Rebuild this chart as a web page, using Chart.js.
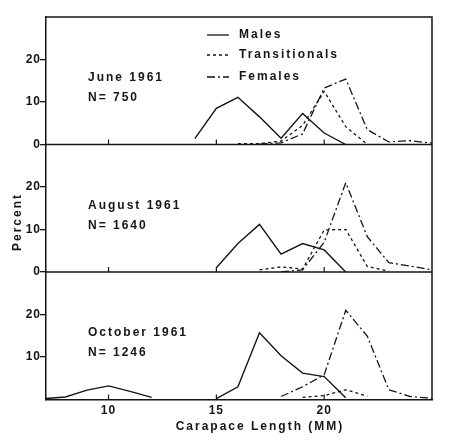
<!DOCTYPE html>
<html>
<head>
<meta charset="utf-8">
<script src="https://cdn.jsdelivr.net/npm/chart.js@4.4.1/dist/chart.umd.min.js"></script>
<style>
  html, body { margin: 0; background: #fff; }
  #wrap { width: 450px; height: 444px; }
</style>
</head>
<body>
<div id="wrap"><canvas id="chart"></canvas></div>
<script>
// carapace length classes (mm)
const lengths = [7, 8, 9, 10, 11, 12, 13, 14, 15, 16, 17, 18, 19, 20, 21, 22, 23, 24, 25];

// percent per length class, null = no line
const juneMales     = [null, null, null, null, null, null, null, 1.4, 8.5, 11.1, 6.5, 1.5, 7.3, 2.7, 0, null, null, null, null];
const juneTrans     = [null, null, null, null, null, null, null, null, null, 0.2, 0.2, 0.8, 4.5, 12.5, 4.2, 0, null, null, null];
const juneFemales   = [null, null, null, null, null, null, null, null, null, null, 0.1, 0.4, 2.5, 13.3, 15.4, 3.5, 0.6, 0.9, 0.3];

const augustMales   = [null, null, null, null, null, null, null, null, 1.0, 6.7, 11.2, 4.2, 6.7, 5.2, 0, null, null, null, null];
const augustTrans   = [null, null, null, null, null, null, null, null, null, null, 0.5, 1.2, 0.7, 9.9, 10.0, 1.3, 0.2, null, null];
const augustFemales = [null, null, null, null, null, null, null, null, null, null, null, 0, 0.5, 7.0, 21.0, 8.3, 2.2, 1.4, 0.5];

const octMales      = [0.2, 0.6, 2.2, 3.2, 1.9, 0.5, null, null, 0.2, 3.0, 15.7, 10.3, 6.2, 5.4, 0.4, null, null, null, null];
const octTrans      = [null, null, null, null, null, null, null, null, null, null, null, null, 0.5, 0.9, 2.3, 0.8, null, null, null];
const octFemales    = [null, null, null, null, null, null, null, null, null, null, null, 0.7, 3.0, 5.8, 21.0, 14.9, 2.3, 0.7, 0.3];

const xTicks = [10, 15, 20];
const yTicks = [0, 10, 20];

const panelTitles = ['June 1961', 'August 1961', 'October 1961'];
const panelCounts = ['N= 750', 'N= 1640', 'N= 1246'];
const seriesNames = ['Males', 'Transitionals', 'Females'];
const xTitle = 'Carapace Length (MM)';
const yTitle = 'Percent';

const INK = '#151515';
const FONT = '"Liberation Sans", Arial, sans-serif';
const dashes = [[], [3, 3], [8, 3, 2, 3]];

function pts(arr) {
  return lengths.map((x, i) => ({ x: x, y: arr[i] }));
}

function line(arr, kind, axis) {
  return {
    label: seriesNames[kind],
    data: pts(arr),
    yAxisID: axis,
    borderColor: INK,
    borderWidth: kind === 0 ? 1.4 : 1.3,
    borderDash: dashes[kind],
    pointRadius: 0,
    tension: 0,
    spanGaps: false
  };
}

const datasets = [
  line(juneMales, 0, 'y1'), line(juneTrans, 1, 'y1'), line(juneFemales, 2, 'y1'),
  line(augustMales, 0, 'y2'), line(augustTrans, 1, 'y2'), line(augustFemales, 2, 'y2'),
  line(octMales, 0, 'y3'), line(octTrans, 1, 'y3'), line(octFemales, 2, 'y3')
];

function panelAxis(showZero) {
  return {
    type: 'linear',
    position: 'left',
    stack: 'panels',
    stackWeight: 1,
    min: 0,
    max: 30,
    afterBuildTicks: s => {
      s.ticks = yTicks.filter(v => showZero || v > 0).map(v => ({ value: v }));
    },
    afterFit: s => { s.width = 46; },
    grid: { drawOnChartArea: false, tickLength: 6, color: INK, lineWidth: 1.3 },
    border: { display: true, color: INK, width: 1.5 },
    ticks: { color: INK, padding: -1, font: { family: FONT, size: 12, weight: 'bold' } }
  };
}

const spacing = {
  id: 'spacing',
  beforeLayout(chart) { chart.ctx.letterSpacing = '1px'; },
  beforeDraw(chart) { chart.ctx.letterSpacing = '1px'; }
};

const frame = {
  id: 'frame',
  afterDraw(chart) {
    const { ctx, chartArea: a, scales } = chart;
    ctx.save();
    ctx.strokeStyle = INK;
    ctx.lineWidth = 1.5;
    ctx.beginPath();
    ctx.moveTo(a.left, a.top);
    ctx.lineTo(a.right, a.top);
    ctx.lineTo(a.right, a.bottom);
    ['y1', 'y2'].forEach(id => {
      const y = scales[id].getPixelForValue(0);
      ctx.moveTo(a.left, y);
      ctx.lineTo(a.right, y);
    });
    ctx.stroke();

    // small inward ticks on every panel baseline
    ctx.lineWidth = 1.2;
    ctx.beginPath();
    ['y1', 'y2', 'y3'].forEach(id => {
      const y = scales[id].getPixelForValue(0);
      xTicks.forEach(v => {
        const x = scales.x.getPixelForValue(v);
        ctx.moveTo(x, y);
        ctx.lineTo(x, y - 5);
      });
    });
    ctx.stroke();

    ctx.fillStyle = INK;
    ctx.font = 'bold 12px ' + FONT;
    ctx.letterSpacing = '2px';
    ctx.textBaseline = 'middle';
    ctx.textAlign = 'left';

    // panel labels
    ['y1', 'y2', 'y3'].forEach((id, i) => {
      const top = scales[id].top;
      ctx.fillText(panelTitles[i], a.left + 42, top + 61);
      ctx.fillText(panelCounts[i], a.left + 42, top + 81);
    });

    // legend
    const legendY = [35, 55, 77];
    seriesNames.forEach((name, i) => {
      ctx.setLineDash(dashes[i]);
      ctx.lineWidth = 1.3;
      ctx.beginPath();
      ctx.moveTo(207, legendY[i]);
      ctx.lineTo(229, legendY[i]);
      ctx.stroke();
      ctx.setLineDash([]);
      ctx.fillText(name, 239, legendY[i]);
    });

    // axis titles
    ctx.textAlign = 'center';
    ctx.fillText(xTitle, 260, 427);
    ctx.translate(18, 222);
    ctx.rotate(-Math.PI / 2);
    ctx.fillText(yTitle, 0, 0);
    ctx.restore();
  }
};

new Chart(document.getElementById('chart'), {
  type: 'line',
  data: { datasets: datasets },
  options: {
    responsive: true,
    maintainAspectRatio: false,
    animation: false,
    layout: { padding: { top: 17, right: 18, left: 0, bottom: 0 } },
    plugins: { legend: { display: false }, tooltip: { enabled: false } },
    scales: {
      x: {
        type: 'linear',
        min: 7.1,
        max: 25,
        afterBuildTicks: s => { s.ticks = xTicks.map(v => ({ value: v })); },
        afterFit: s => { s.height = 44.5; },
        grid: { display: false },
        border: { display: true, color: INK, width: 1.5 },
        ticks: { color: INK, padding: -4, maxRotation: 0, font: { family: FONT, size: 12, weight: 'bold' } }
      },
      y3: panelAxis(false),
      y2: panelAxis(true),
      y1: panelAxis(true)
    }
  },
  plugins: [spacing, frame]
});
</script>
</body>
</html>
